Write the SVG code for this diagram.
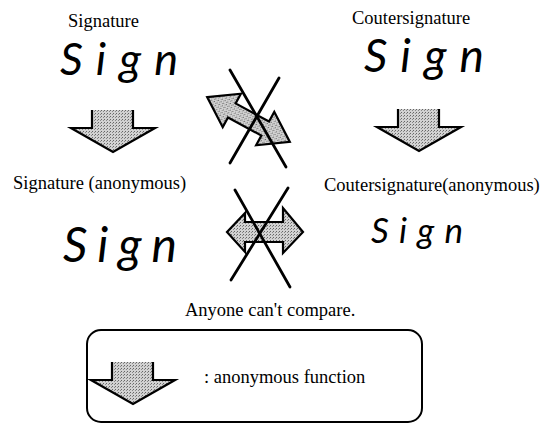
<svg xmlns="http://www.w3.org/2000/svg" width="552" height="425" viewBox="0 0 552 425">
<style>
.lbl{font-family:"Liberation Serif","Times New Roman",serif;font-size:18.5px;fill:#000}
.hand{font-family:"Lato","Open Sans","DejaVu Sans",sans-serif;font-weight:400;font-style:italic;fill:#000}
.x{stroke:#000;stroke-width:2.8;stroke-linecap:round;fill:none}
</style>
<defs>
<pattern id="dots" width="3" height="3" patternUnits="userSpaceOnUse">
<rect width="3" height="3" fill="#d2d2d2"/>
<rect width="1" height="1" fill="#666"/>
<rect x="2" y="1" width="1" height="1" fill="#8a8a8a"/>
</pattern>
<path id="down" d="M0,0 L0,18 L-21,18 L21,42 L63,18 L41,18 L41,0"/>
</defs>
<rect width="552" height="425" fill="#fff"/>

<g id="signature">
<text class="lbl" x="68" y="27">Signature</text>
<text class="hand" x="60" y="75" font-size="45" textLength="118" lengthAdjust="spacing">Sign</text>
</g>
<g id="countersignature">
<text class="lbl" x="352" y="24">Coutersignature</text>
<text class="hand" x="364" y="72" font-size="46" textLength="120" lengthAdjust="spacing">Sign</text>
</g>
<g id="signature-anonymous">
<text class="lbl" x="13" y="189">Signature (anonymous)</text>
<text class="hand" x="63" y="262" font-size="48" textLength="114" lengthAdjust="spacing">Sign</text>
</g>
<g id="countersignature-anonymous">
<text class="lbl" x="324" y="191">Coutersignature(anonymous)</text>
<text class="hand" x="371" y="243" font-size="35" textLength="92" lengthAdjust="spacing">Sign</text>
</g>
<g id="caption">
<text class="lbl" x="185" y="316">Anyone can't compare.</text>
</g>
<g id="legend">
<rect x="87" y="330" width="335" height="92" rx="14" fill="none" stroke="#000" stroke-width="2"/>
<use href="#down" transform="translate(112,362)" fill="url(#dots)" stroke="#000" stroke-width="2.2"/>
<text class="lbl" x="204" y="383">: anonymous function</text>
</g>

<g id="connectors">
<use href="#down" transform="translate(92,110)" fill="url(#dots)" stroke="#000" stroke-width="2.2"/>
<use href="#down" transform="translate(398,109)" fill="url(#dots)" stroke="#000" stroke-width="2.2"/>
<g id="compare-top">
<path transform="translate(248.5,119.5) rotate(28.5)" fill="url(#dots)" stroke="#000" stroke-width="2.2" d="M-47,0 L-19,-19 L-19,-8 L19,-8 L19,-19 L47,0 L19,19 L19,8 L-19,8 L-19,19 Z"/>
<line class="x" x1="230" y1="70" x2="286" y2="167"/>
<line class="x" x1="279" y1="78" x2="230" y2="163"/>
</g>
<g id="compare-bottom">
<path fill="url(#dots)" stroke="#000" stroke-width="2.2" d="M227,232 L245,213 L245,222 L283,222 L283,208 L303,232 L283,253 L283,242 L245,242 L245,252 Z"/>
<line class="x" x1="235" y1="190" x2="290" y2="287"/>
<line class="x" x1="288" y1="188" x2="231" y2="280"/>
</g>
</g>
</svg>
